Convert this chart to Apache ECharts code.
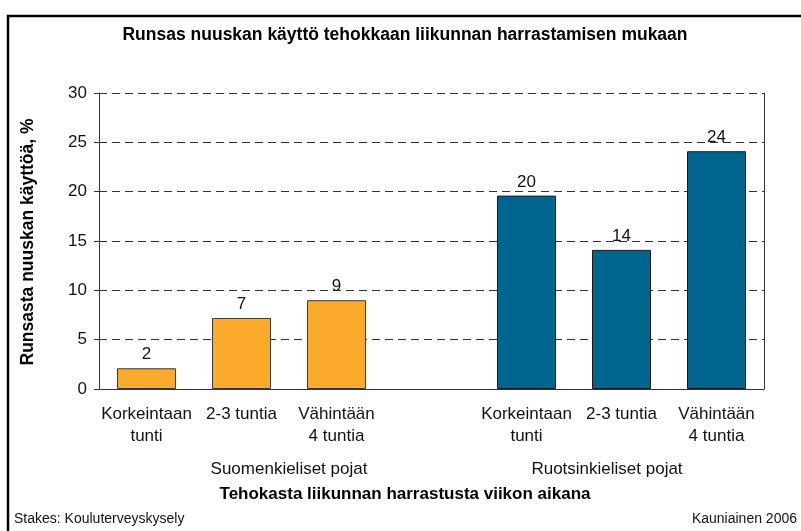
<!DOCTYPE html>
<html><head><meta charset="utf-8">
<script src="https://cdn.jsdelivr.net/npm/echarts@6/dist/echarts.min.js"></script>
<style>html,body{margin:0;padding:0;background:#fff}#c{width:801px;height:531px}</style>
</head><body><div id="c"></div>
<script>
var categories = ['Korkeintaan\ntunti', '2-3 tuntia', 'Vähintään\n4 tuntia', '', 'Korkeintaan\ntunti', '2-3 tuntia', 'Vähintään\n4 tuntia'];
var finnishBoys = [2.1, 7.2, 9.0, '-', '-', '-', '-'];
var swedishBoys = ['-', '-', '-', '-', 19.6, 14.1, 24.1];
var yTicks = [0, 5, 10, 15, 20, 25, 30];
var groupLabels = ['Suomenkieliset pojat', 'Ruotsinkieliset pojat'];
var titleText = 'Runsas nuuskan käyttö tehokkaan liikunnan harrastamisen mukaan';
var yTitle = 'Runsasta nuuskan käyttöä, %';
var xTitle = 'Tehokasta liikunnan harrastusta viikon aikana';
var sourceText = 'Stakes: Kouluterveyskysely';
var placeText = 'Kauniainen 2006';

var FONT = '"Liberation Sans", Arial, sans-serif';
var chart = echarts.init(document.getElementById('c'), null, {renderer: 'canvas'});
var labelOpt = {
  show: true, position: 'top', distance: 5,
  fontFamily: FONT, fontSize: 17, color: '#111',
  formatter: function (p) { return Math.round(p.value); }
};
chart.setOption({
  animation: false,
  backgroundColor: '#fff',
  grid: {left: 99, right: 37, top: 93, bottom: 142, containLabel: false},
  xAxis: {
    type: 'category', data: categories,
    axisTick: {show: false},
    axisLine: {show: true, lineStyle: {color: '#333', width: 1}},
    axisLabel: {interval: 0, margin: 14, lineHeight: 22, fontFamily: FONT, fontSize: 17, color: '#111'}
  },
  yAxis: [{
    type: 'value', min: yTicks[0], max: yTicks[yTicks.length - 1], interval: yTicks[1] - yTicks[0],
    axisLine: {show: true, lineStyle: {color: '#333', width: 1}},
    axisTick: {show: true, length: 5, lineStyle: {color: '#333'}},
    axisLabel: {margin: 12, fontFamily: FONT, fontSize: 17, color: '#111'},
    splitLine: {show: true, lineStyle: {color: '#333', type: [8, 5], width: 1}}
  }, {
    type: 'value', position: 'right', min: yTicks[0], max: yTicks[yTicks.length - 1], interval: yTicks[1] - yTicks[0],
    axisLine: {show: true, lineStyle: {color: '#333', width: 1}},
    axisTick: {show: false}, axisLabel: {show: false}, splitLine: {show: false}
  }],
  series: [{
    type: 'bar', data: finnishBoys, barWidth: 59, barGap: '-100%',
    itemStyle: {color: '#FBAA2B', borderColor: '#3a3a3a', borderWidth: 1},
    label: labelOpt
  }, {
    type: 'bar', data: swedishBoys, barWidth: 59,
    itemStyle: {color: '#00668F', borderColor: '#1a1a1a', borderWidth: 1},
    label: labelOpt
  }],
  graphic: [
    {type: 'rect', shape: {x: 8, y: 16, width: 820, height: 540}, style: {fill: null, stroke: '#000', lineWidth: 2.5}, z: 100},
    {type: 'text', x: 405, y: 35, style: {text: titleText, fontFamily: FONT, fontSize: 17.5, fontWeight: 'bold', fill: '#000', textAlign: 'center', textVerticalAlign: 'middle'}},
    {type: 'text', x: 28, y: 242, rotation: Math.PI / 2, style: {text: yTitle, fontFamily: FONT, fontSize: 17.5, fontWeight: 'bold', fill: '#000', textAlign: 'center', textVerticalAlign: 'middle'}},
    {type: 'text', x: 289, y: 469, style: {text: groupLabels[0], fontFamily: FONT, fontSize: 17, fill: '#111', textAlign: 'center', textVerticalAlign: 'middle'}},
    {type: 'text', x: 607, y: 469, style: {text: groupLabels[1], fontFamily: FONT, fontSize: 17, fill: '#111', textAlign: 'center', textVerticalAlign: 'middle'}},
    {type: 'text', x: 405, y: 494, style: {text: xTitle, fontFamily: FONT, fontSize: 17, fontWeight: 'bold', fill: '#000', textAlign: 'center', textVerticalAlign: 'middle'}},
    {type: 'text', x: 14, y: 519, style: {text: sourceText, fontFamily: FONT, fontSize: 14, fill: '#111', textAlign: 'left', textVerticalAlign: 'middle'}},
    {type: 'text', x: 797, y: 519, style: {text: placeText, fontFamily: FONT, fontSize: 14, fill: '#111', textAlign: 'right', textVerticalAlign: 'middle'}}
  ]
});
</script></body></html>
